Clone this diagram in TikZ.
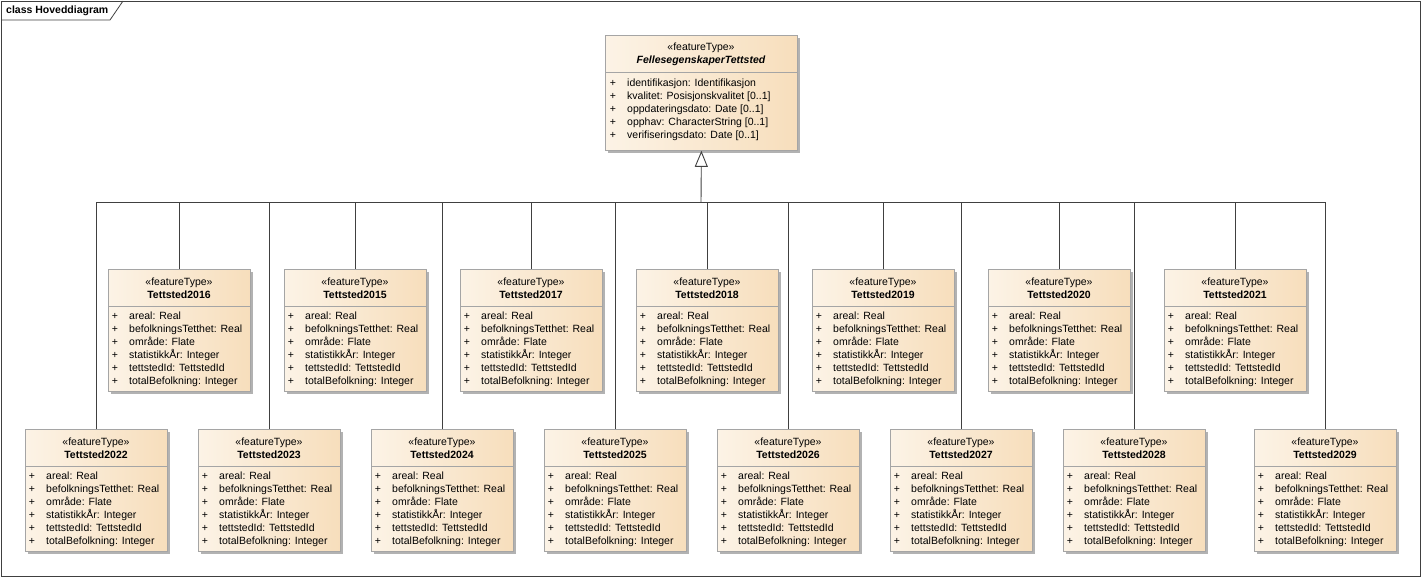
\documentclass[tikz,border=0pt]{standalone}
\usepackage{fontspec}
\setmainfont{Liberation Sans}
\usetikzlibrary{arrows.meta,shadows}
\definecolor{boxleft}{RGB}{252,243,230}
\definecolor{boxright}{RGB}{247,222,188}
\definecolor{boxline}{RGB}{165,165,165}
\definecolor{linegray}{RGB}{64,64,64}
\begin{document}
\begin{tikzpicture}[x=1pt,y=-1pt,
        every node/.style={font=\fontsize{10.5}{13}\selectfont, inner sep=0pt, text=black, text height=7.6pt, text depth=2.2pt},
        tittel/.style={font=\fontsize{10.5}{13}\selectfont\bfseries},
        klasse/.style={anchor=north west, minimum width=142pt, minimum height=122pt, draw=boxline, line width=0.8pt,
            left color=boxleft, right color=boxright, text height=, text depth=,
            drop shadow={shadow xshift=3pt, shadow yshift=-3pt, fill=black!30, opacity=1}},
        attr/.style={anchor=west},
        conn/.style={draw=linegray, line width=0.9pt}]
    \useasboundingbox (0,0) rectangle (1421,577);
    \draw[linegray, line width=0.8pt] (1,1) rectangle (1420,576);
    \draw[linegray, line width=0.8pt] (1,20) -- (110,20) -- (123,1);
    \node[tittel, anchor=west] (diagram) at (6,11) {class Hoveddiagram};

    \node[klasse, minimum width=192pt, minimum height=115pt] (felles) at (605,35) {};
    \path (felles.north west) ++(96,13) node (felles-st) {«featureType»}
        ++(0,13) node[font=\fontsize{10.5}{13}\selectfont\bfseries\itshape] (felles-n) {FellesegenskaperTettsted};
    \draw[boxline, line width=0.8pt] (felles.north west) ++(0,37) -- ++(192,0);
    \foreach \a [count=\i] in {identifikasjon: Identifikasjon, kvalitet: Posisjonskvalitet [0..1], oppdateringsdato: Date [0..1], opphav: CharacterString [0..1], verifiseringsdato: Date [0..1]}
        \path (felles.north west) ++(8,{36+13*\i}) node (felles-p\i) {+} ++(14,0) node[attr] (felles-a\i) {\a};

    \foreach \jahr/\px/\py in {2016/108/269, 2015/284/269, 2017/460/269, 2018/636/269, 2019/812/269, 2020/988/269, 2021/1164/269,
            2022/25/429, 2023/198/429, 2024/371/429, 2025/544/429, 2026/717/429, 2027/890/429, 2028/1063/429, 2029/1254/429}{
        \node[klasse] (t\jahr) at (\px,\py) {};
        \path (t\jahr.north west) ++(71,14) node (t\jahr-st) {«featureType»}
            ++(0,13) node[tittel] (t\jahr-n) {Tettsted\jahr};
        \draw[boxline, line width=0.8pt] (t\jahr.north west) ++(0,37) -- ++(142,0);
        \foreach \a [count=\i] in {areal: Real, befolkningsTetthet: Real, område: Flate, statistikkÅr: Integer, tettstedId: TettstedId, totalBefolkning: Integer}
            \path (t\jahr.north west) ++(7,{35+13*\i}) node (t\jahr-p\i) {+} ++(14,0) node[attr] (t\jahr-a\i) {\a};
    }

    \coordinate (fork) at (701,202);
    \foreach \jahr in {2015,...,2029}
        \draw[conn] (t\jahr.north) |- (fork);
    \draw[conn, -{Triangle[length=16pt, width=13pt, fill=white]}] (fork) -- (felles.south);
\end{tikzpicture}
\end{document}
